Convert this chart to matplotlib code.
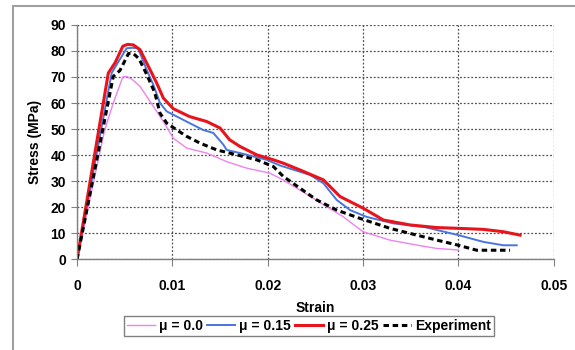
import matplotlib
matplotlib.use("Agg")
import matplotlib.pyplot as plt
from matplotlib.patches import Rectangle

plt.rcParams['font.family'] = ['Liberation Sans', 'DejaVu Sans']

# Data
strain_mu0 = [0.0, 0.0014, 0.0029, 0.0038, 0.0048, 0.0052, 0.0058, 0.0066, 0.0080, 0.00905,
              0.0101, 0.0115, 0.0136, 0.0157, 0.0178, 0.0202, 0.0216, 0.0245, 0.0262,
              0.0279, 0.0300, 0.0328, 0.0356, 0.0377, 0.0400]
stress_mu0 = [0.0, 24.1, 49.7, 60.0, 70.0, 70.2, 69.0, 66.4, 58.7, 52.9,
              46.5, 42.7, 40.8, 37.5, 35.0, 33.1, 30.5, 24.1, 20.2,
              16.4, 10.6, 7.4, 5.5, 4.2, 3.6]

strain_mu15 = [0.0, 0.00363, 0.0042, 0.0052, 0.0058, 0.0064, 0.0073, 0.0080, 0.0087, 0.0094,
               0.0101, 0.0118, 0.0132, 0.0143, 0.01535, 0.0157, 0.0171, 0.0199, 0.0213,
               0.02444, 0.02584, 0.02724, 0.02864, 0.03038, 0.03318, 0.03633,
               0.0400, 0.04262, 0.04472, 0.04612]
stress_mu15 = [0.0, 71.5, 75.0, 81.0, 81.2, 81.0, 72.8, 67.0, 60.0, 56.8,
               55.5, 52.3, 49.7, 48.5, 44.0, 42.0, 40.8, 38.2, 36.0,
               32.4, 29.2, 22.8, 18.9, 16.3, 13.8, 12.5,
               9.3, 6.7, 5.4, 5.4]

strain_mu25 = [0.0, 0.00328, 0.0040, 0.0048, 0.0053, 0.0059, 0.0066, 0.0073, 0.00835, 0.00905,
               0.0101, 0.0118, 0.0136, 0.0150, 0.0160, 0.0171, 0.01885, 0.0206,
               0.02164, 0.02339, 0.02584, 0.02759, 0.03003, 0.03213, 0.03493, 0.03773,
               0.0400, 0.04262, 0.04472, 0.04647]
stress_mu25 = [0.0, 71.5, 75.5, 81.8, 82.5, 82.3, 80.5, 75.4, 67.7, 61.9,
               57.8, 54.8, 52.9, 50.4, 45.9, 43.3, 40.1, 38.2,
               36.9, 34.3, 30.5, 24.1, 19.6, 15.1, 13.2, 12.2,
               11.9, 11.5, 10.6, 9.3]

strain_exp = [0.0, 0.0038, 0.0045, 0.0054, 0.0059, 0.0065, 0.0073, 0.00815, 0.0087, 0.0094,
              0.01045, 0.0115, 0.0129, 0.01465, 0.01675, 0.01885, 0.0206,
              0.02164, 0.02339, 0.02514, 0.02724, 0.02969, 0.03283, 0.03563, 0.03773,
              0.0400, 0.04192, 0.04542]
stress_exp = [0.0, 70.2, 72.5, 79.0, 79.0, 77.0, 71.0, 64.0, 56.1, 52.3,
              49.7, 47.2, 44.6, 42.0, 40.1, 38.2, 35.6,
              31.8, 27.3, 22.8, 18.9, 15.7, 11.9, 9.3, 7.4,
              5.4, 3.5, 3.5]

x_ticks = [0, 0.01, 0.02, 0.03, 0.04, 0.05]
x_labels = ['0', '0.01', '0.02', '0.03', '0.04', '0.05']
y_ticks = [0, 10, 20, 30, 40, 50, 60, 70, 80, 90]

fig = plt.figure(figsize=(5.75, 3.5), dpi=100)
ax = fig.add_axes([0.134, 0.259, 0.829, 0.670])

# figure border
fig.patches.append(Rectangle((12.5 / 575, -0.01), 1.0, (350 - 5.5) / 350 + 0.01, transform=fig.transFigure,
                             fill=False, edgecolor='#a0a0a0', linewidth=1.5))

l1, = ax.plot(strain_mu0, stress_mu0, color='#ee82ee', lw=1.0, label='\u03bc = 0.0')
l2, = ax.plot(strain_mu15, stress_mu15, color='#4a74e0', lw=1.4, label='\u03bc = 0.15')
l3, = ax.plot(strain_mu25, stress_mu25, color='#e8141c', lw=2.2, label='\u03bc = 0.25')
l4, = ax.plot(strain_exp, stress_exp, color='black', lw=2.2, ls=(0, (1.8, 1.2)), label='Experiment')

ax.set_xlim(0, 0.05)
ax.set_ylim(0, 90)
ax.set_xticks(x_ticks)
ax.set_xticklabels(x_labels)
ax.set_yticks(y_ticks)
ax.grid(True, color='#505050', ls=(0, (1.5, 1.5)), lw=0.9)
ax.set_axisbelow(True)
for s in ['top', 'right']:
    ax.spines[s].set_visible(False)
for s in ['left', 'bottom']:
    ax.spines[s].set_color('#808080')
    ax.spines[s].set_linewidth(1.0)
ax.tick_params(axis='x', length=5, width=0.8, color='#808080', pad=9, labelsize=10)
ax.tick_params(axis='y', length=4, width=0.8, color='#808080', pad=4, labelsize=10)
for t in ax.get_xticklabels() + ax.get_yticklabels():
    t.set_fontweight('bold')

ax.set_xlabel('Strain', fontsize=10, fontweight='bold', labelpad=6)
ax.set_ylabel('Stress (MPa)', fontsize=10, fontweight='bold', labelpad=6)

leg = fig.legend(handles=[l1, l2, l3, l4], loc='center', bbox_to_anchor=(309 / 575, 1 - 326 / 350),
                 ncol=4, frameon=True, fancybox=False, fontsize=10, handlelength=2.0,
                 handletextpad=0.3, columnspacing=0.3, borderpad=0.25)
leg.get_frame().set_edgecolor('#606060')
leg.get_frame().set_linewidth(1.0)
for t in leg.get_texts():
    t.set_fontweight('bold')

fig.savefig('out.png', dpi=100)
